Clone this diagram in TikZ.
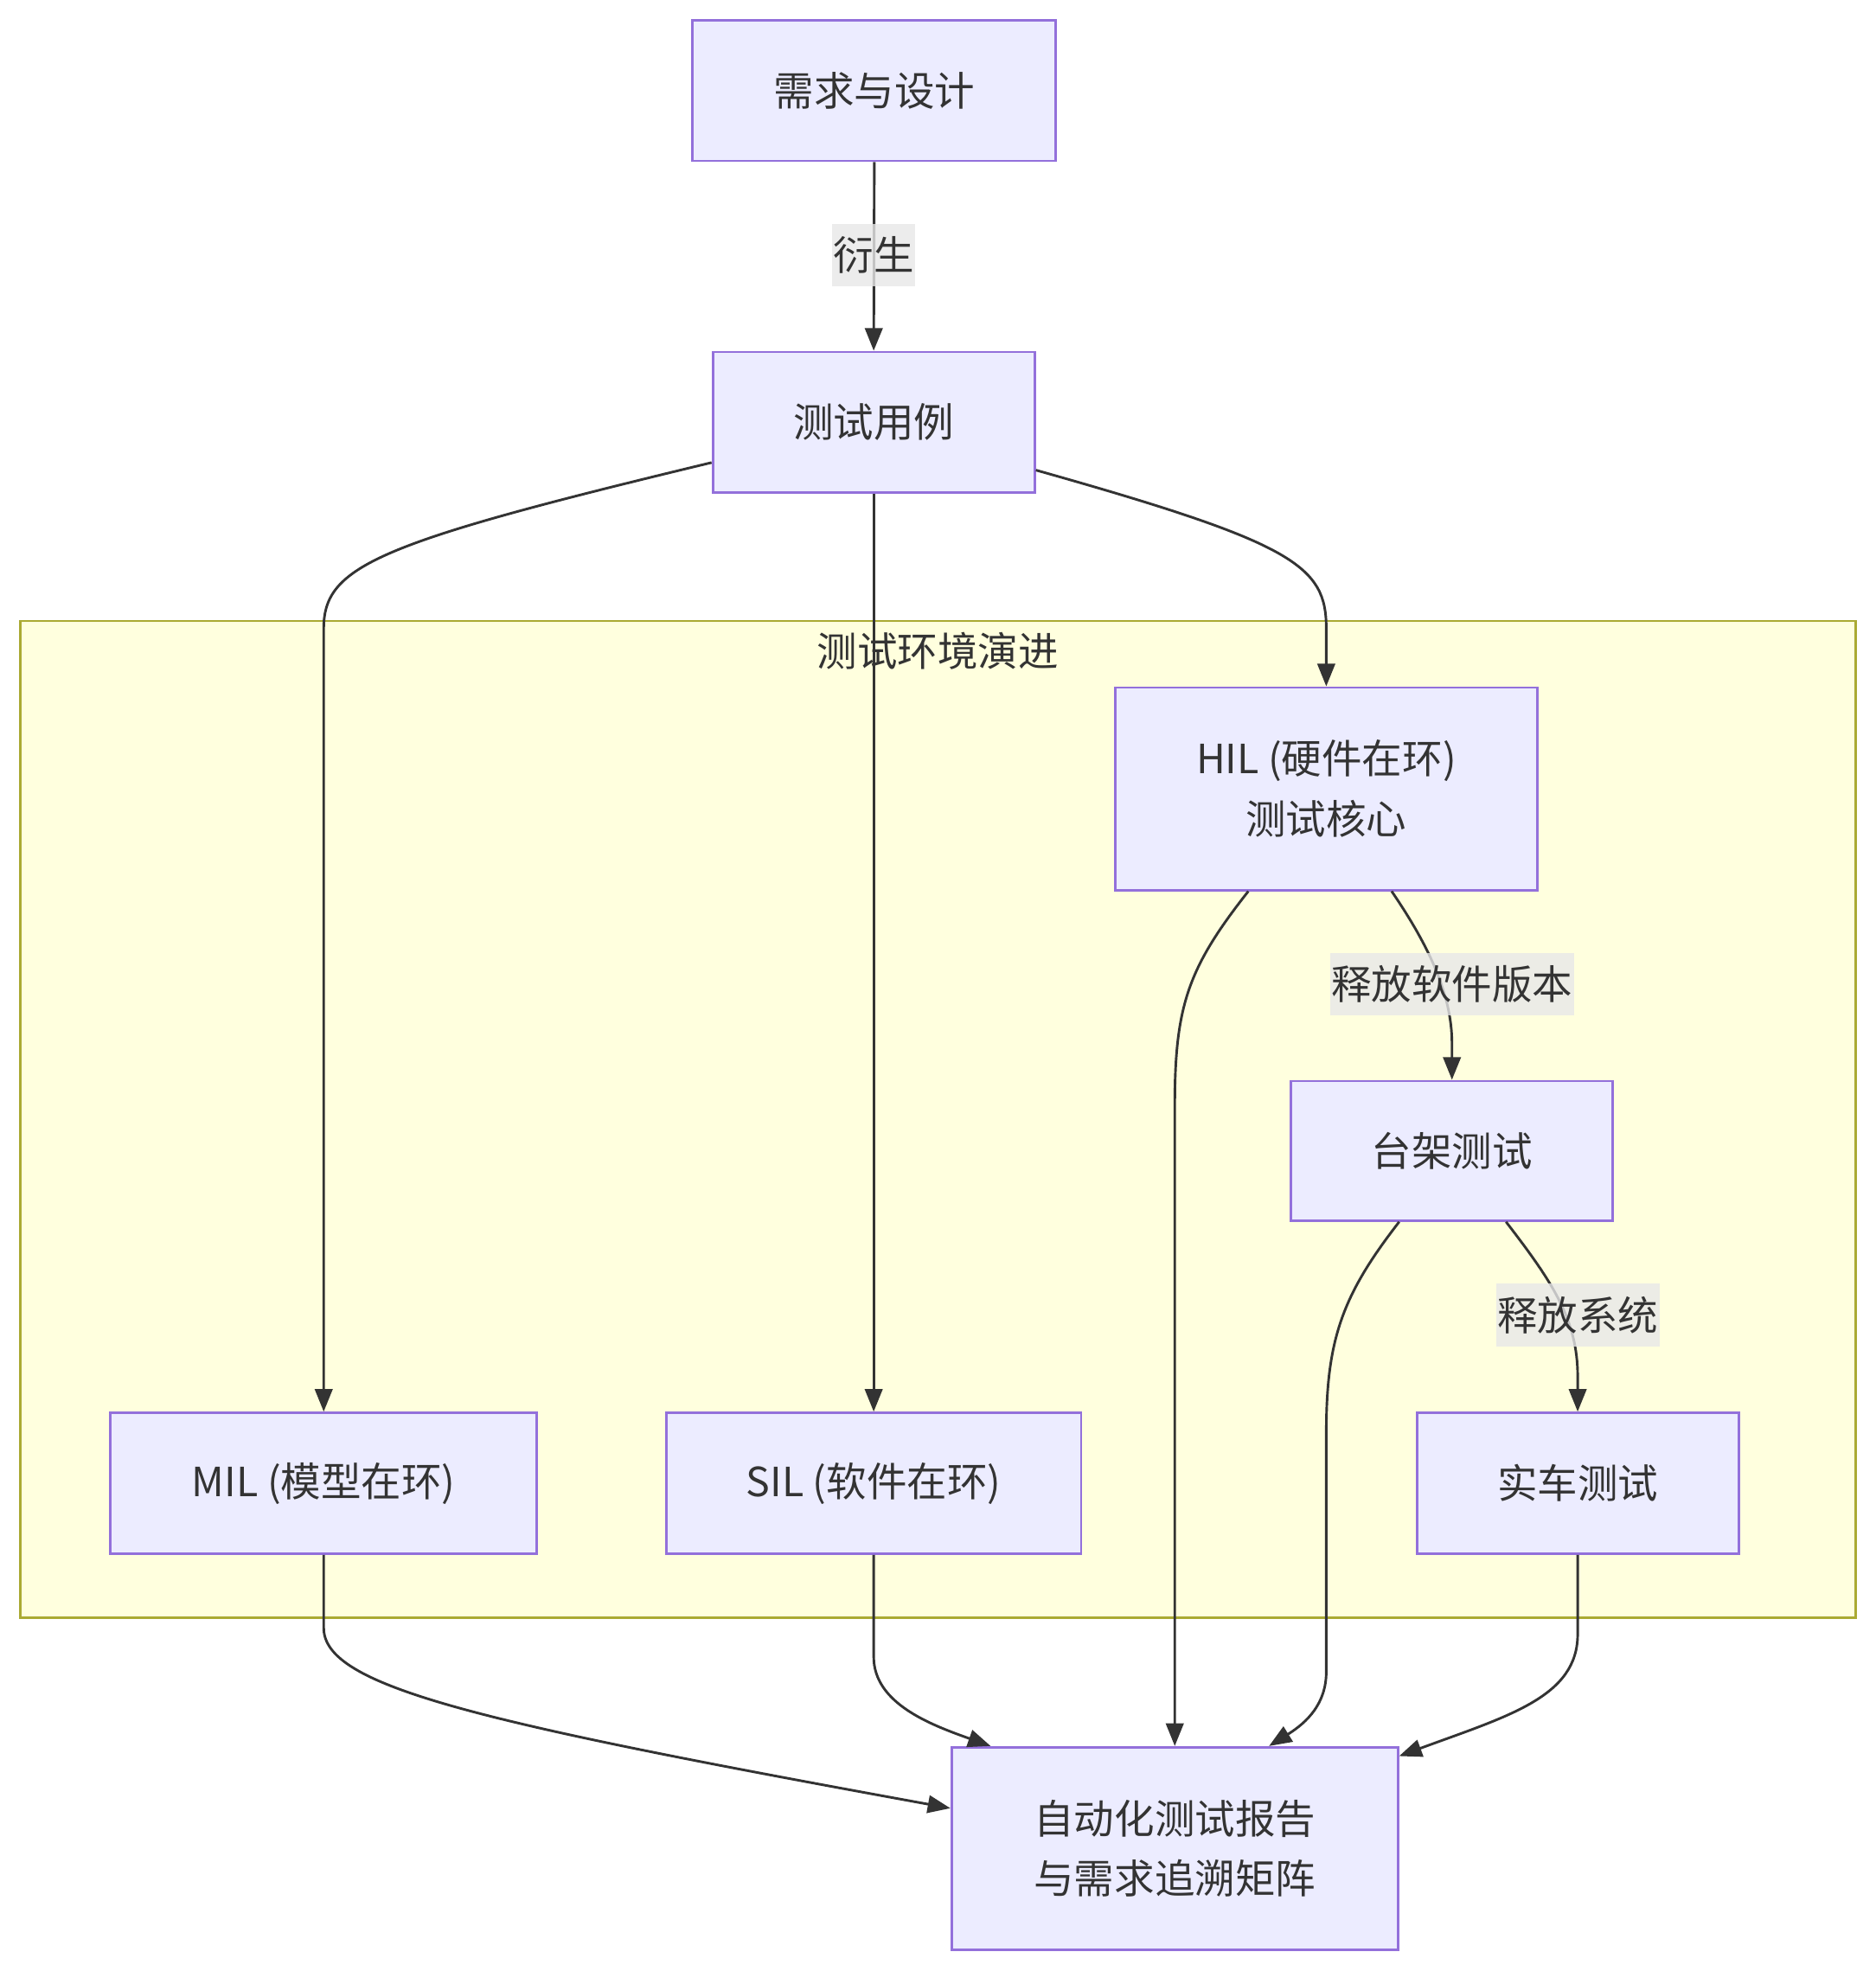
\documentclass[tikz,border=0pt]{standalone}
\usepackage{fontspec}
\setmainfont{Noto Sans CJK SC}
\usetikzlibrary{arrows.meta,calc}
\definecolor{nodefill}{HTML}{ECECFF}
\definecolor{nodeline}{HTML}{9370DB}
\definecolor{txt}{HTML}{333333}
\definecolor{clusterfill}{HTML}{FFFFDE}
\definecolor{clusterline}{HTML}{AAAA33}
\definecolor{lblfill}{HTML}{E8E8E8}
\begin{document}
\begin{tikzpicture}[x=0.5pt,y=-0.5pt,
  box/.style={draw=nodeline, fill=nodefill, line width=1pt, text=txt, inner sep=0pt, align=center, font=\fontsize{16}{24}\selectfont},
  cluster/.style={draw=clusterline, fill=clusterfill, line width=1pt, inner sep=0pt},
  edge/.style={draw=txt, line width=1pt, -{Triangle[length=9pt,width=7pt]}},
  lbl/.style={fill=lblfill, fill opacity=0.8, text opacity=1, text=txt, inner xsep=0.5pt, inner ysep=0pt, minimum height=25pt, font=\fontsize{16}{24}\selectfont},
  title/.style={text=txt, inner sep=0pt, font=\fontsize{16}{24}\selectfont}]
\useasboundingbox (0,0) rectangle (1492,1568);
\fill[white] (0,0) rectangle (1492,1568);
\node[cluster, minimum width=730pt, minimum height=396.5pt] (env) at (746,890.5) {};
\node[title] (envt) at (746,518) {测试环境演进};

\node[box, minimum width=144.5pt, minimum height=56pt] (req) at (695.5,72) {需求与设计};
\node[box, minimum width=128pt, minimum height=56pt] (tc) at (695,336) {测试用例};
\node[box, minimum width=168pt, minimum height=80.5pt] (hil) at (1055,627.5) {HIL (硬件在环)\\测试核心};
\node[box, minimum width=128pt, minimum height=55.5pt] (bench) at (1155,915.5) {台架测试};
\node[box, minimum width=128pt, minimum height=56pt] (car) at (1255,1180) {实车测试};
\node[box, minimum width=169.5pt, minimum height=56pt] (mil) at (257.5,1180) {MIL (模型在环)};
\node[box, minimum width=165pt, minimum height=56pt] (sil) at (695,1180) {SIL (软件在环)};
\node[box, minimum width=177.5pt, minimum height=80.5pt] (rep) at (934.5,1470.5) {自动化测试报告\\与需求追溯矩阵};

\draw[edge] (req.south) -- (tc.north);
\draw[edge] ($(tc.west)+(0,32)$) .. controls (300,432) and (257.5,450) .. (257.5,500) -- (mil.north);
\draw[edge] (tc.south) -- (sil.north);
\draw[edge] ($(tc.east)+(0,38)$) .. controls (1030,432) and (1055,450) .. (1055,500) -- (hil.north);
\draw[edge] ($(hil.south)+(52,0)$) .. controls (1135,750) and (1155,790) .. (1155,830) -- (bench.north);
\draw[edge] ($(hil.south)+(-62,0)$) .. controls (945,770) and (934.5,800) .. (934.5,880) -- (rep.north);
\draw[edge] ($(bench.south)+(43,0)$) .. controls (1235,1020) and (1255,1050) .. (1255,1095) -- (car.north);
\draw[edge] ($(bench.south)+(-42,0)$) .. controls (1068,1030) and (1055,1065) .. (1055,1140) -- (1055,1330) .. controls (1055,1355) and (1040,1370) .. ($(rep.north)+(75,0)$);
\draw[edge] (car.south) -- (1255,1300) .. controls (1255,1350) and (1200,1365) .. ($(rep.north east)+(0,8)$);
\draw[edge] (sil.south) -- (695,1318) .. controls (695,1355) and (740,1372) .. ($(rep.north west)+(32,0)$);
\draw[edge] (mil.south) -- (257.5,1295) .. controls (257.5,1342) and (380,1370) .. ($(rep.west)+(0,-32)$);

\node[lbl] (l1) at (695,203) {衍生};
\node[lbl] (l2) at (1155,783) {释放软件版本};
\node[lbl] (l3) at (1255,1046) {释放系统};
\end{tikzpicture}
\end{document}
